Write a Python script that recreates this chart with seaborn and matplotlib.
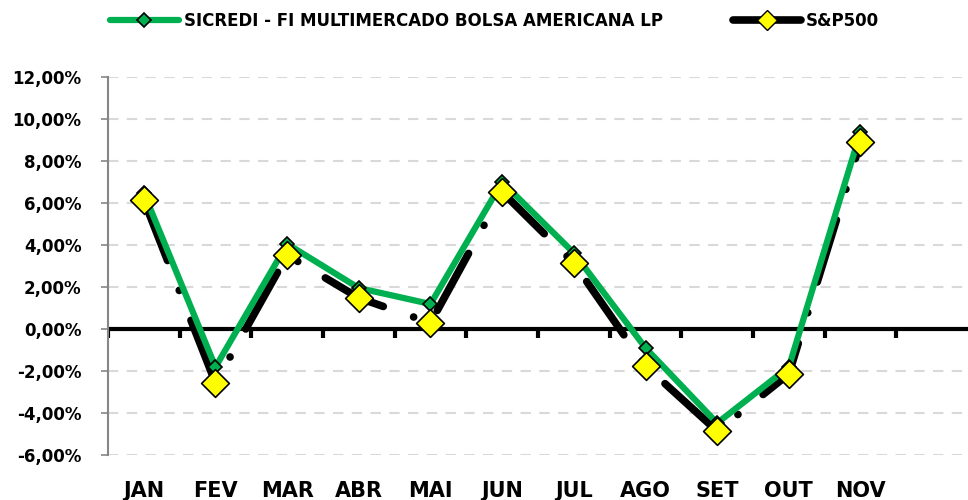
import matplotlib
matplotlib.use("Agg")
import matplotlib.pyplot as plt
import seaborn as sns
import pandas as pd
import numpy as np
from matplotlib.lines import Line2D
from matplotlib.ticker import FuncFormatter, MultipleLocator

months = ["JAN", "FEV", "MAR", "ABR", "MAI", "JUN", "JUL", "AGO", "SET", "OUT", "NOV"]
sicredi = [6.48, -1.81, 4.05, 1.95, 1.19, 7.00, 3.62, -0.90, -4.48, -1.81, 9.38]
sp500 = [6.14, -2.57, 3.52, 1.48, 0.29, 6.52, 3.14, -1.76, -4.86, -2.14, 8.90]
name_fund = "SICREDI - FI MULTIMERCADO BOLSA AMERICANA LP"
name_idx = "S&P500"

sns.set_theme(style="white")
plt.rcParams['font.family'] = ['DejaVu Sans']
plt.rcParams['font.weight'] = 'bold'
plt.rcParams['text.color'] = 'black'

df = pd.DataFrame({"x": np.arange(len(months)), "fund": sicredi, "idx": sp500})

fig = plt.figure(figsize=(9.68, 5.0), dpi=100)
ax = fig.add_axes([108/968, 45/500, 860/968, 378/500])

GREEN = "#00B050"

# S&P500 black dash-dot line
sns.lineplot(data=df, x="x", y="idx", ax=ax, color="black", linewidth=5.5,
             zorder=2, dashes=False)
ln = ax.lines[-1]
ln.set_dashes((8.5, 4.2, 0.01, 4.2))
ln.set_dash_capstyle("round")
ln.set_solid_capstyle("round")

# Fund green line with small diamonds
sns.lineplot(data=df, x="x", y="fund", ax=ax, color=GREEN, linewidth=4.5,
             marker="D", markersize=7, markerfacecolor=GREEN,
             markeredgecolor="black", markeredgewidth=1.2, zorder=3)

# S&P500 yellow markers on top
sns.scatterplot(data=df, x="x", y="idx", ax=ax, marker="D", s=200,
                color="#FFFF00", edgecolor="black", linewidth=1.2, zorder=5)

ax.set_xlim(-0.5, 11.5)
ax.set_ylim(-6, 12)
ax.yaxis.set_major_locator(MultipleLocator(2))
ax.yaxis.set_major_formatter(FuncFormatter(lambda v, p: f"{v:.2f}%".replace(".", ",")))
ax.set_xticks(np.arange(len(months)))
ax.set_xticklabels(months)
ax.tick_params(axis="x", length=0, pad=19, labelsize=15)
ax.tick_params(axis="y", length=5, width=1.2, color="#868686", direction="out",
               pad=14, labelsize=12)
ax.tick_params(axis="y", which="both", left=True)
for lab in ax.get_xticklabels() + ax.get_yticklabels():
    lab.set_fontweight("bold")
    lab.set_color("black")

ax.grid(axis="y", color="#D9D9D9", linestyle=(0, (5, 4)), linewidth=1.5)
ax.set_axisbelow(True)
for s in ["top", "right", "bottom"]:
    ax.spines[s].set_visible(False)
ax.spines["left"].set_color("#868686")
ax.spines["left"].set_linewidth(1.5)
ax.set_xlabel("")
ax.set_ylabel("")

# zero line with boundary tick marks
ax.axhline(0, color="black", linewidth=3, zorder=1.5)
bounds = np.arange(-0.5, 11.5, 1.0)
ax.vlines(bounds, -0.45, 0, color="black", linewidth=3, zorder=1.5)

handles = [
    Line2D([0], [0], color=GREEN, linewidth=4.5, marker="D", markersize=7,
           markerfacecolor=GREEN, markeredgecolor="black", markeredgewidth=1.2,
           solid_capstyle="round"),
    Line2D([0], [0], color="black", linewidth=5.5, marker="D", markersize=10,
           markerfacecolor="#FFFF00", markeredgecolor="black", markeredgewidth=1.0,
           solid_capstyle="round"),
]
leg = fig.legend(handles, [name_fund, name_idx], loc="center", ncol=2,
                 bbox_to_anchor=(0.511, 0.958), frameon=False, handlelength=4.1,
                 columnspacing=4.2, handletextpad=0.3,
                 prop={"weight": "bold", "size": 12}, labelcolor="black")

fig.savefig("out.png", dpi=100)
